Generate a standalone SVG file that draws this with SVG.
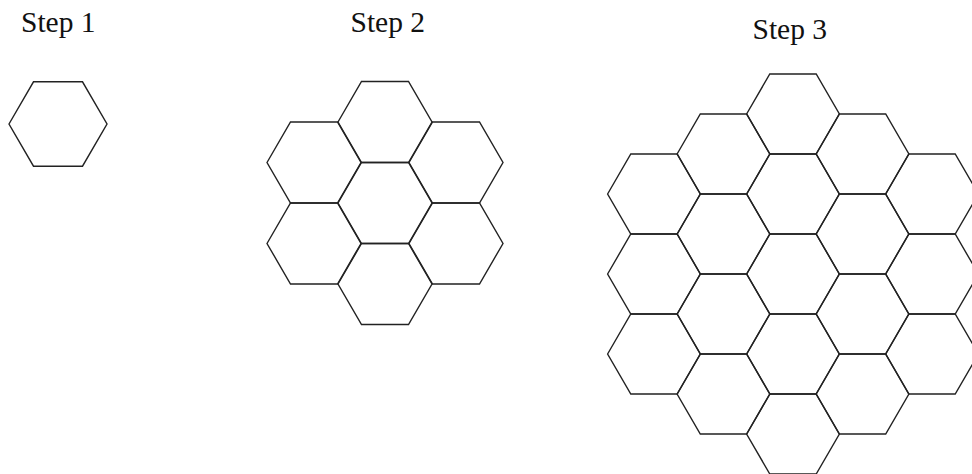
<svg xmlns="http://www.w3.org/2000/svg" xmlns:xlink="http://www.w3.org/1999/xlink" width="972" height="474" viewBox="0 0 972 474">
<style>
.hex{fill:none;stroke:#222;stroke-width:1.4;stroke-linejoin:miter}
.lbl{font-family:"Liberation Serif","Times New Roman",serif;font-size:29.5px;fill:#111}
</style>
<defs>
<polygon id="h1" points="-49,0 -24.5,-42.2 24.5,-42.2 49,0 24.5,42.2 -24.5,42.2"/>
<polygon id="h2" points="-47,0 -23.5,-40.5 23.5,-40.5 47,0 23.5,40.5 -23.5,40.5"/>
<polygon id="h3" points="-46.4,0 -23.2,-40 23.2,-40 46.4,0 23.2,40 -23.2,40"/>
</defs>
<rect width="972" height="474" fill="#fff"/>
<g id="labels">
<text class="lbl" x="21" y="32">Step 1</text>
<text class="lbl" x="350.5" y="32">Step 2</text>
<text class="lbl" x="752.5" y="39">Step 3</text>
</g>
<g id="step1">
<use xlink:href="#h1" class="hex" x="58" y="124"/>
</g>
<g id="step2">
<use xlink:href="#h2" class="hex" x="385" y="122"/>
<use xlink:href="#h2" class="hex" x="314" y="162.5"/>
<use xlink:href="#h2" class="hex" x="456" y="162.5"/>
<use xlink:href="#h2" class="hex" x="385" y="203"/>
<use xlink:href="#h2" class="hex" x="314" y="243.5"/>
<use xlink:href="#h2" class="hex" x="456" y="243.5"/>
<use xlink:href="#h2" class="hex" x="385" y="284"/>
</g>
<g id="step3">
<use xlink:href="#h3" class="hex" x="654" y="194"/>
<use xlink:href="#h3" class="hex" x="654" y="274"/>
<use xlink:href="#h3" class="hex" x="654" y="354"/>
<use xlink:href="#h3" class="hex" x="723.5" y="154"/>
<use xlink:href="#h3" class="hex" x="723.5" y="234"/>
<use xlink:href="#h3" class="hex" x="723.5" y="314"/>
<use xlink:href="#h3" class="hex" x="723.5" y="394"/>
<use xlink:href="#h3" class="hex" x="793" y="114"/>
<use xlink:href="#h3" class="hex" x="793" y="194"/>
<use xlink:href="#h3" class="hex" x="793" y="274"/>
<use xlink:href="#h3" class="hex" x="793" y="354"/>
<use xlink:href="#h3" class="hex" x="793" y="434"/>
<use xlink:href="#h3" class="hex" x="862.5" y="154"/>
<use xlink:href="#h3" class="hex" x="862.5" y="234"/>
<use xlink:href="#h3" class="hex" x="862.5" y="314"/>
<use xlink:href="#h3" class="hex" x="862.5" y="394"/>
<use xlink:href="#h3" class="hex" x="932" y="194"/>
<use xlink:href="#h3" class="hex" x="932" y="274"/>
<use xlink:href="#h3" class="hex" x="932" y="354"/>
</g>
</svg>
